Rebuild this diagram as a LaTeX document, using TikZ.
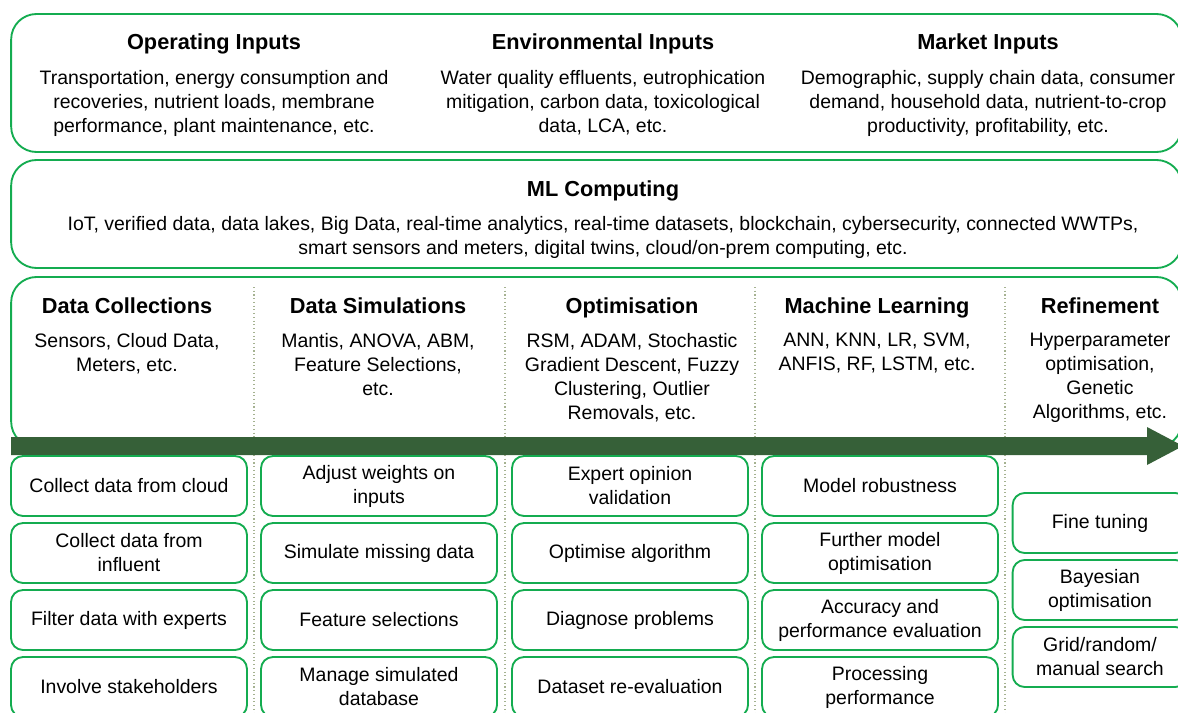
\documentclass[tikz,border=0pt]{standalone}
\usepackage{xcolor}
\usepackage{fontspec}
\setmainfont{Liberation Sans}
\usepackage{tikz}

\definecolor{boxgreen}{RGB}{20,172,80}
\definecolor{flowgreen}{RGB}{54,96,56}
\definecolor{sepgrey}{RGB}{165,178,145}

\newcommand{\bodyfont}{\fontsize{14.6}{18}\selectfont}
\newcommand{\headfont}{\fontsize{16.3}{20}\selectfont\bfseries}

\tikzset{
    panel/.style={draw=boxgreen, line width=1.4pt, rounded corners=19pt},
    stepbox/.style={draw=boxgreen, line width=1.4pt, rounded corners=9pt, minimum width=177pt, minimum height=45pt, inner sep=1pt, align=center, font=\bodyfont},
    heading/.style={anchor=base, inner sep=0pt, font=\headfont},
    bodytext/.style={anchor=north, inner sep=0pt, align=center, font=\bodyfont},
    sepline/.style={draw=sepgrey, line width=0.8pt, dotted}
}

\begin{document}
\begin{tikzpicture}[x=0.75pt,y=0.75pt,yscale=-1,xscale=1]
        \useasboundingbox (0,0) rectangle (1178,713);
        \clip (0,0) rectangle (1178,713);

        % three panels
        \node [panel, minimum width=878pt, minimum height=103.5pt] (inputs) at (596.5,83) {};
        \node [panel, minimum width=878pt, minimum height=81pt] (computing) at (596.5,214) {};
        \node [panel, minimum width=878pt, minimum height=127.5pt] (pipeline) at (596.5,362) {};

        % inputs
        \node [heading] (opin) at (214,50) {Operating Inputs};
        \node [bodytext] (optext) at (214,70) {Transportation, energy consumption and\\recoveries, nutrient loads, membrane\\performance, plant maintenance, etc.};
        \node [heading] (envin) at (603,50) {Environmental Inputs};
        \node [bodytext] (envtext) at (603,70) {Water quality effluents, eutrophication\\mitigation, carbon data, toxicological\\data, LCA, etc.};
        \node [heading] (mktin) at (988,50) {Market Inputs};
        \node [bodytext] (mkttext) at (988,70) {Demographic, supply chain data, consumer\\demand, household data, nutrient-to-crop\\productivity, profitability, etc.};

        % computing
        \node [heading] (mlcomp) at (603,196) {ML Computing};
        \node [bodytext] (mltext) at (603,216) {IoT, verified data, data lakes, Big Data, real-time analytics, real-time datasets, blockchain, cybersecurity, connected WWTPs,\\smart sensors and meters, digital twins, cloud/on-prem computing, etc.};

        % column separators
        \draw [sepline] (254,287) -- (254,713);
        \draw [sepline] (505,287) -- (505,713);
        \draw [sepline] (755,287) -- (755,713);
        \draw [sepline] (1005,287) -- (1005,713);

        % stages
        \node [heading] (collect) at (127,313) {Data Collections};
        \node [bodytext] (collecttext) at (127,333) {Sensors, Cloud Data,\\Meters, etc.};
        \node [heading] (simul) at (378,313) {Data Simulations};
        \node [bodytext] (simultext) at (378,333) {Mantis, ANOVA, ABM,\\Feature Selections,\\etc.};
        \node [heading] (optim) at (632,313) {Optimisation};
        \node [bodytext] (optimtext) at (632,333) {RSM, ADAM, Stochastic\\Gradient Descent, Fuzzy\\Clustering, Outlier\\Removals, etc.};
        \node [heading] (mlearn) at (877,313) {Machine Learning};
        \node [bodytext] (mlearntext) at (877,333) {ANN, KNN, LR, SVM,\\ANFIS, RF, LSTM, etc.};
        \node [heading] (refine) at (1100,313) {Refinement};
        \node [bodytext] (refinetext) at (1100,333) {Hyperparameter\\optimisation,\\Genetic\\Algorithms, etc.};

        % flow arrow
        \coordinate (flowtail) at (11,446);
        \coordinate (flowtip) at (1183,446);
        \fill [flowgreen] (flowtail) ++(0,-9) -- (1147,437) -- (1147,427) -- (flowtip) -- (1147,465) -- (1147,455) -- (11,455) -- cycle;

        % tasks
        \node [stepbox] (c1) at (129,486) {Collect data from cloud};
        \node [stepbox] (c2) at (129,553) {Collect data from\\influent};
        \node [stepbox] (c3) at (129,620) {Filter data with experts};
        \node [stepbox] (c4) at (129,687) {Involve stakeholders};

        \node [stepbox] (s1) at (379,486) {Adjust weights on\\inputs};
        \node [stepbox] (s2) at (379,553) {Simulate missing data};
        \node [stepbox] (s3) at (379,620) {Feature selections};
        \node [stepbox] (s4) at (379,687) {Manage simulated\\database};

        \node [stepbox] (o1) at (630,486) {Expert opinion\\validation};
        \node [stepbox] (o2) at (630,553) {Optimise algorithm};
        \node [stepbox] (o3) at (630,620) {Diagnose problems};
        \node [stepbox] (o4) at (630,687) {Dataset re-evaluation};

        \node [stepbox] (m1) at (880,486) {Model robustness};
        \node [stepbox] (m2) at (880,553) {Further model\\optimisation};
        \node [stepbox] (m3) at (880,620) {Accuracy and\\performance evaluation};
        \node [stepbox] (m4) at (880,687) {Processing\\performance};

        \node [stepbox, minimum width=131pt] (r1) at (1100,523) {Fine tuning};
        \node [stepbox, minimum width=131pt] (r2) at (1100,590) {Bayesian\\optimisation};
        \node [stepbox, minimum width=131pt] (r3) at (1100,657) {Grid/random/\\manual search};
    \end{tikzpicture}
\end{document}
